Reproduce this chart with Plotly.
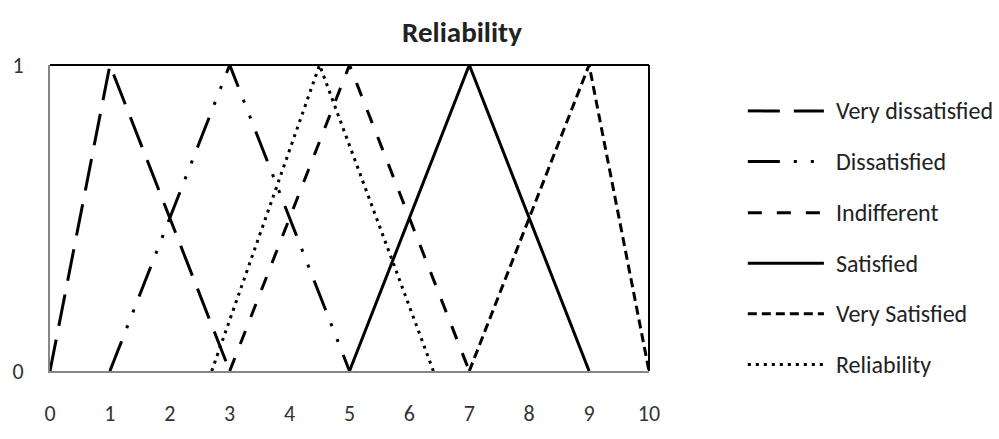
import plotly.graph_objects as go

# Fuzzy membership functions (triangular), x-vertices and membership levels
series_names = ["Very dissatisfied", "Dissatisfied", "Indifferent",
                "Satisfied", "Very Satisfied", "Reliability"]
very_dissatisfied_x = [0, 1, 3]
dissatisfied_x = [1, 3, 5]
indifferent_x = [3, 5, 7]
satisfied_x = [5, 7, 9]
very_satisfied_x = [7, 9, 10]
reliability_x = [2.7, 4.5, 6.4]
membership = [0, 1, 0]

x_ticks = list(range(0, 11))
y_ticks = [0, 1]

series_x = [very_dissatisfied_x, dissatisfied_x, indifferent_x,
            satisfied_x, very_satisfied_x, reliability_x]
dash_styles = ["32px,14px",
               "32px,14px,3px,14px,3px,14px",
               "14px,15px",
               "solid",
               "9px,5px",
               "3px,5px"]

FONT = "Calibri, Carlito, Lato, 'Open Sans', sans-serif"
LINE_W = 3

fig = go.Figure()
for name, xs, dash in zip(series_names, series_x, dash_styles):
    fig.add_trace(go.Scatter(
        x=xs, y=membership, mode="lines", name=name,
        line=dict(color="black", width=LINE_W, dash=dash),
        showlegend=False, hoverinfo="x+y+name",
    ))

# Hand-drawn legend to the right of the plot area
leg_x0, leg_x1, leg_text_x = 1.165, 1.292, 1.309
leg_rows = [0.850, 0.685, 0.517, 0.352, 0.187, 0.021]
shapes = []
annotations = []
for name, dash, ly in zip(series_names, dash_styles, leg_rows):
    shapes.append(dict(type="line", xref="paper", yref="paper",
                       x0=leg_x0, x1=leg_x1, y0=ly, y1=ly,
                       line=dict(color="black", width=LINE_W, dash=dash)))
    annotations.append(dict(xref="paper", yref="paper", x=leg_text_x, y=ly,
                            xanchor="left", yanchor="middle", showarrow=False,
                            text=name, font=dict(family=FONT, size=24, color="#222")))

# Plot-area border on top and right
shapes.append(dict(type="line", xref="paper", yref="paper", x0=0, x1=1, y0=1, y1=1,
                   line=dict(color="black", width=2)))
shapes.append(dict(type="line", xref="paper", yref="paper", x0=1, x1=1, y0=0, y1=1,
                   line=dict(color="black", width=2)))

fig.update_layout(
    width=999, height=439,
    margin=dict(l=43, r=350, t=65, b=47),
    paper_bgcolor="white", plot_bgcolor="white",
    title=dict(text="<b>Reliability</b>", x=462 / 999, xref="container", xanchor="center",
               y=1 - 32 / 439, yref="container", yanchor="middle",
               font=dict(family=FONT, size=29, color="#222")),
    font=dict(family=FONT, color="#333"),
    shapes=shapes,
    annotations=annotations,
    xaxis=dict(range=[0, 10], tickvals=x_ticks, ticktext=[str(v) for v in x_ticks],
               showgrid=False, zeroline=False, showline=True,
               linecolor="#868686", linewidth=2, ticks="",
               ticklabelstandoff=22, tickfont=dict(family=FONT, size=22, color="#333")),
    yaxis=dict(range=[0, 1], tickvals=y_ticks, ticktext=[str(v) for v in y_ticks],
               showgrid=False, zeroline=False, showline=True,
               linecolor="#868686", linewidth=2, ticks="",
               ticklabelstandoff=20, tickfont=dict(family=FONT, size=22, color="#333")),
)

fig.write_html("out.html")
